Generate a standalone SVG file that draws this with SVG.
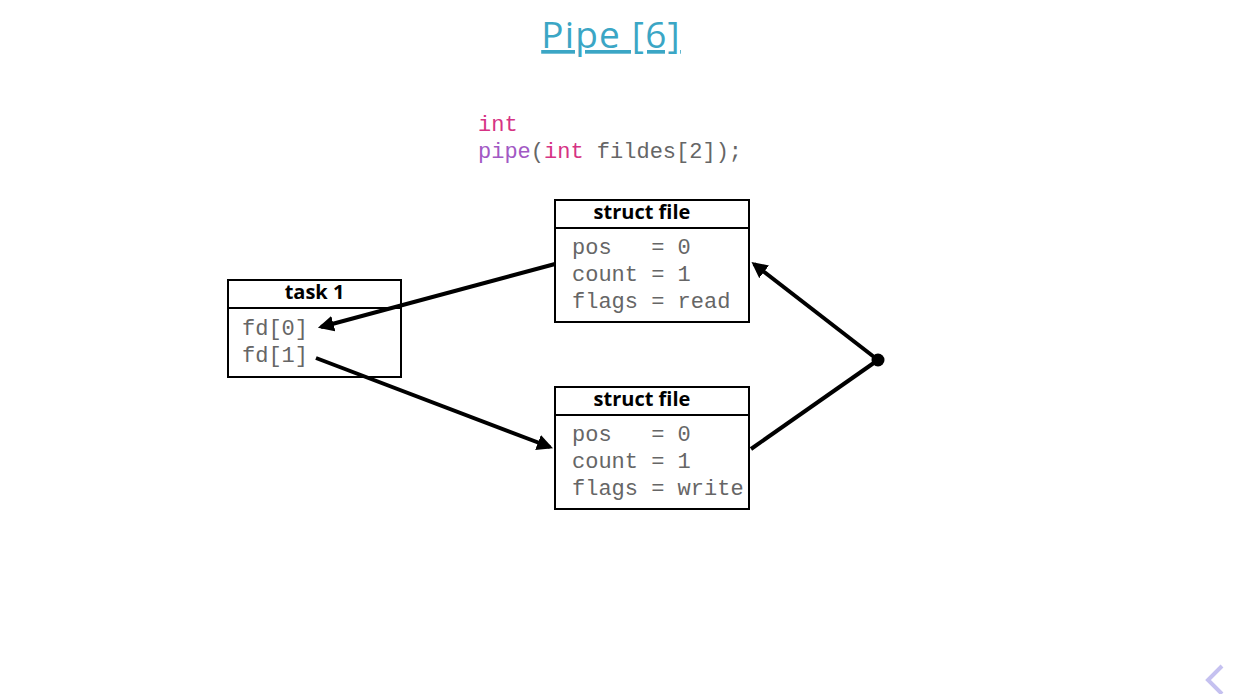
<svg xmlns="http://www.w3.org/2000/svg" width="1258" height="694" viewBox="0 0 1258 694">
<style>
.box{fill:#fff;stroke:#000;stroke-width:2}
.hdr{font-family:"Open Sans","Noto Sans",sans-serif;font-weight:bold;font-size:20px;fill:#000;text-anchor:middle}
.mono{font-family:"Liberation Mono","Courier New",monospace;font-size:22px;fill:#666;white-space:pre}
.conn{stroke:#000;stroke-width:4;fill:none}
</style>
<defs>
<marker id="arr" viewBox="0 0 10 10" refX="8" refY="5" markerWidth="4" markerHeight="4" orient="auto" markerUnits="strokeWidth">
<path d="M0,0 L10,5 L0,10 z" fill="#000"/>
</marker>
</defs>
<rect width="1258" height="694" fill="#fff"/>
<g id="title">
<text x="611" y="48" font-family="'Open Sans','Noto Sans',sans-serif" font-size="37" letter-spacing="1.2" fill="#3ba6c5" text-anchor="middle" text-decoration="underline">Pipe [6]</text>
</g>
<g id="code">
<text x="478" y="131" class="mono"><tspan fill="#d63384">int</tspan></text>
<text x="478" y="158" class="mono"><tspan fill="#a259c4">pipe</tspan>(<tspan fill="#d63384">int</tspan> fildes[2]);</text>
</g>
<g id="task1">
<rect class="box" x="228" y="280" width="173" height="97"/>
<line x1="228" y1="308" x2="401" y2="308" stroke="#000" stroke-width="2"/>
<text class="hdr" x="314.5" y="299">task 1</text>
<text class="mono" x="242" y="335">fd[0]</text>
<text class="mono" x="242" y="362">fd[1]</text>
</g>
<g id="file1">
<rect class="box" x="555" y="200" width="194" height="122"/>
<line x1="555" y1="228" x2="749" y2="228" stroke="#000" stroke-width="2"/>
<text class="hdr" x="642" y="219">struct file</text>
<text class="mono" x="572" y="254">pos   = 0</text>
<text class="mono" x="572" y="281">count = 1</text>
<text class="mono" x="572" y="308">flags = read</text>
</g>
<g id="file2">
<rect class="box" x="555" y="387" width="194" height="122"/>
<line x1="555" y1="415" x2="749" y2="415" stroke="#000" stroke-width="2"/>
<text class="hdr" x="642" y="406">struct file</text>
<text class="mono" x="572" y="441">pos   = 0</text>
<text class="mono" x="572" y="468">count = 1</text>
<text class="mono" x="572" y="495">flags = write</text>
</g>
<g id="connectors">
<line class="conn" x1="555" y1="264" x2="321" y2="327" marker-end="url(#arr)"/>
<line class="conn" x1="316" y1="358" x2="550" y2="447" marker-end="url(#arr)"/>
<line class="conn" x1="878" y1="360" x2="754" y2="264" marker-end="url(#arr)"/>
<line class="conn" x1="751" y1="449" x2="878" y2="360"/>
<circle cx="878" cy="360" r="6.5" fill="#000"/>
</g>
<g id="nav">
<path d="M1222,666 L1208,680 L1222,694" fill="none" stroke="#c5c1f0" stroke-width="4"/>
</g>
</svg>
